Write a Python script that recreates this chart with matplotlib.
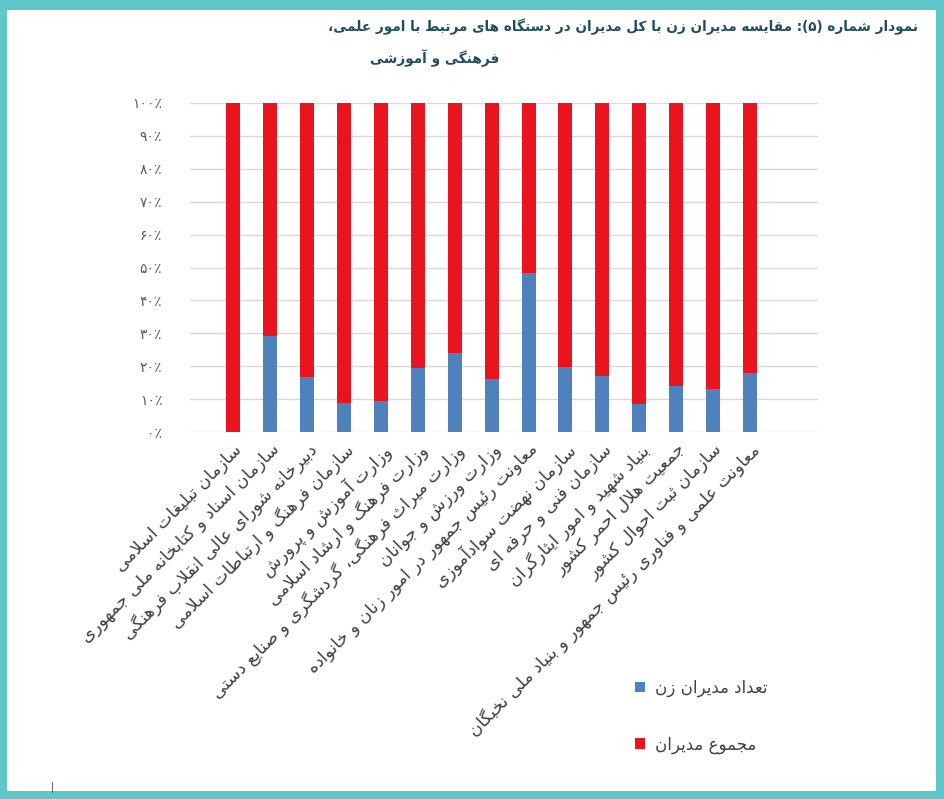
import matplotlib
matplotlib.use("Agg")
import matplotlib.pyplot as plt
from matplotlib.patches import Rectangle
import numpy as np


# --------------------------- data ------------------------------

categories = [
    "سازمان تبلیغات اسلامی",
    "سازمان اسناد و کتابخانه ملی جمهوری",
    "دبیرخانه شورای عالی انقلاب فرهنگی",
    "سازمان فرهنگ و ارتباطات اسلامی",
    "وزارت آموزش و پرورش",
    "وزارت فرهنگ و ارشاد اسلامی",
    "وزارت میراث فرهنگی، گردشگری و صنایع دستی",
    "وزارت ورزش و جوانان",
    "معاونت رئیس جمهور در امور زنان و خانواده",
    "سازمان نهضت سوادآموزی",
    "سازمان فنی و حرفه ای",
    "بنیاد شهید و امور ایثارگران",
    "جمعیت هلال احمر کشور",
    "سازمان ثبت احوال کشور",
    "معاونت علمی و فناوری رئیس جمهور و بنیاد ملی نخبگان",
]

# share of each series in the 100% stacked bar (percent)
women_share = [0, 29.3, 16.6, 8.9, 9.5, 19.6, 23.9, 16.2, 48.3, 19.9, 17.1, 8.5, 14.0, 13.1, 17.8]
total_share = [100, 70.7, 83.4, 91.1, 90.5, 80.4, 76.1, 83.8, 51.7, 80.1, 82.9, 91.5, 86.0, 86.9, 82.2]

women_label = "تعداد مدیران زن"
total_label = "مجموع مدیران"

title_line1 = "نمودار شماره (۵): مقایسه مدیران زن با کل مدیران در دستگاه های مرتبط با امور علمی،"
title_line2 = "فرهنگی و آموزشی"

y_ticks = [0, 10, 20, 30, 40, 50, 60, 70, 80, 90, 100]


# --------------------------- persian shaping ------------------------------
# matplotlib draws left to right without joining, so pick the
# presentation forms by hand: (isolated, final, initial, medial)
FORMS = {
    'ا': ('\uFE8D', '\uFE8E', None, None),
    'آ': ('\uFE81', '\uFE82', None, None),
    'أ': ('\uFE83', '\uFE84', None, None),
    'ب': ('\uFE8F', '\uFE90', '\uFE91', '\uFE92'),
    'پ': ('\uFB56', '\uFB57', '\uFB58', '\uFB59'),
    'ت': ('\uFE95', '\uFE96', '\uFE97', '\uFE98'),
    'ث': ('\uFE99', '\uFE9A', '\uFE9B', '\uFE9C'),
    'ج': ('\uFE9D', '\uFE9E', '\uFE9F', '\uFEA0'),
    'چ': ('\uFB7A', '\uFB7B', '\uFB7C', '\uFB7D'),
    'ح': ('\uFEA1', '\uFEA2', '\uFEA3', '\uFEA4'),
    'خ': ('\uFEA5', '\uFEA6', '\uFEA7', '\uFEA8'),
    'د': ('\uFEA9', '\uFEAA', None, None),
    'ذ': ('\uFEAB', '\uFEAC', None, None),
    'ر': ('\uFEAD', '\uFEAE', None, None),
    'ز': ('\uFEAF', '\uFEB0', None, None),
    'ژ': ('\uFB8A', '\uFB8B', None, None),
    'س': ('\uFEB1', '\uFEB2', '\uFEB3', '\uFEB4'),
    'ش': ('\uFEB5', '\uFEB6', '\uFEB7', '\uFEB8'),
    'ص': ('\uFEB9', '\uFEBA', '\uFEBB', '\uFEBC'),
    'ض': ('\uFEBD', '\uFEBE', '\uFEBF', '\uFEC0'),
    'ط': ('\uFEC1', '\uFEC2', '\uFEC3', '\uFEC4'),
    'ظ': ('\uFEC5', '\uFEC6', '\uFEC7', '\uFEC8'),
    'ع': ('\uFEC9', '\uFECA', '\uFECB', '\uFECC'),
    'غ': ('\uFECD', '\uFECE', '\uFECF', '\uFED0'),
    'ف': ('\uFED1', '\uFED2', '\uFED3', '\uFED4'),
    'ق': ('\uFED5', '\uFED6', '\uFED7', '\uFED8'),
    'ک': ('\uFB8E', '\uFB8F', '\uFB90', '\uFB91'),
    'گ': ('\uFB92', '\uFB93', '\uFB94', '\uFB95'),
    'ل': ('\uFEDD', '\uFEDE', '\uFEDF', '\uFEE0'),
    'م': ('\uFEE1', '\uFEE2', '\uFEE3', '\uFEE4'),
    'ن': ('\uFEE5', '\uFEE6', '\uFEE7', '\uFEE8'),
    'و': ('\uFEED', '\uFEEE', None, None),
    'ه': ('\uFEE9', '\uFEEA', '\uFEEB', '\uFEEC'),
    'ی': ('\uFBFC', '\uFBFD', '\uFBFE', '\uFBFF'),
    'ئ': ('\uFE89', '\uFE8A', '\uFE8B', '\uFE8C'),
}
LAM_ALEF = {'ا': ('\uFEFB', '\uFEFC'), 'آ': ('\uFEF5', '\uFEF6')}
MIRROR = {'(': ')', ')': '('}
DIGITS = set('۰۱۲۳۴۵۶۷۸۹0123456789')


def joins_next(c):
    return c in FORMS and FORMS[c][2] is not None


def fa(text):
    chars = list(text)
    res = []
    i = 0
    while i < len(chars):
        c = chars[i]
        prev = chars[i - 1] if i > 0 else None
        nxt = chars[i + 1] if i + 1 < len(chars) else None
        if c not in FORMS:
            res.append(c)
            i += 1
            continue
        jp = joins_next(prev)
        if c == 'ل' and nxt in LAM_ALEF:
            res.append(LAM_ALEF[nxt][1 if jp else 0])
            i += 2
            continue
        jn = joins_next(c) and nxt in FORMS
        f = FORMS[c]
        if jp and jn:
            res.append(f[3])
        elif jp:
            res.append(f[1])
        elif jn:
            res.append(f[2])
        else:
            res.append(f[0])
        i += 1
    # right to left -> visual order, keep number runs left to right
    vis = [MIRROR.get(c, c) for c in reversed(res)]
    out, run = [], []
    for c in vis:
        if c in DIGITS:
            run.append(c)
        else:
            out.extend(reversed(run))
            run = []
            out.append(c)
    out.extend(reversed(run))
    return ''.join(out)


def fa_digits(n):
    return ''.join('۰۱۲۳۴۵۶۷۸۹'[int(d)] for d in str(n))


# --------------------------- plot ------------------------------

plt.rcParams['font.family'] = ['DejaVu Sans']

fig = plt.figure(figsize=(9.44, 7.99), dpi=100, facecolor='#5EC7CA')
# white page inside the teal frame
fig.patches.append(Rectangle((7 / 944, 8 / 799), 929 / 944, 781 / 799,
                             transform=fig.transFigure, facecolor='white',
                             edgecolor='none', zorder=-5))

ax = fig.add_axes([190 / 944, 1 - 432 / 799, 628 / 944, 329 / 799])
ax.set_zorder(2)
ax.set_facecolor('white')

x = np.arange(len(categories))
bw = 0.38
ax.bar(x, women_share, bw, color='#4F81BD', label=fa(women_label), zorder=3)
ax.bar(x, total_share, bw, bottom=women_share, color='#E9141E', label=fa(total_label), zorder=3)

ax.set_xlim(-1.17, 15.84)
ax.set_ylim(0, 100)
ax.set_yticks(y_ticks)
ax.set_yticklabels([fa_digits(v) + '٪' for v in y_ticks], fontsize=10, color='#595959')
ax.yaxis.grid(True, color='#D9D9D9', linewidth=1, zorder=0)
ax.set_axisbelow(True)
ax.tick_params(axis='y', length=0, pad=20)
ax.tick_params(axis='x', length=0, pad=6)
for s in ax.spines.values():
    s.set_visible(False)

ax.set_xticks(x)
ax.set_xticklabels([fa(c) for c in categories], rotation=45, ha='right', va='top',
                   rotation_mode='anchor', fontsize=12.5, color='#404040')

# title
fig.text(918 / 944, 1 - 27 / 799, fa(title_line1), ha='right', va='center',
         fontsize=9.8, fontweight='bold', color='#1F4E5F')
fig.text(435 / 944, 1 - 58 / 799, fa(title_line2), ha='center', va='center',
         fontsize=9.8, fontweight='bold', color='#1F4E5F')

# legend
fig.legend(loc='upper left', bbox_to_anchor=(620 / 944, 1 - 664 / 799),
           frameon=False, fontsize=12, handlelength=0.6, handleheight=0.6,
           handletextpad=0.6, labelspacing=2.3, labelcolor='#404040')

# page mark
fig.text(52 / 944, 1 - 787 / 799, '|', ha='center', va='center', fontsize=7, color='#333333')

plt.savefig('out.png', dpi=100)
